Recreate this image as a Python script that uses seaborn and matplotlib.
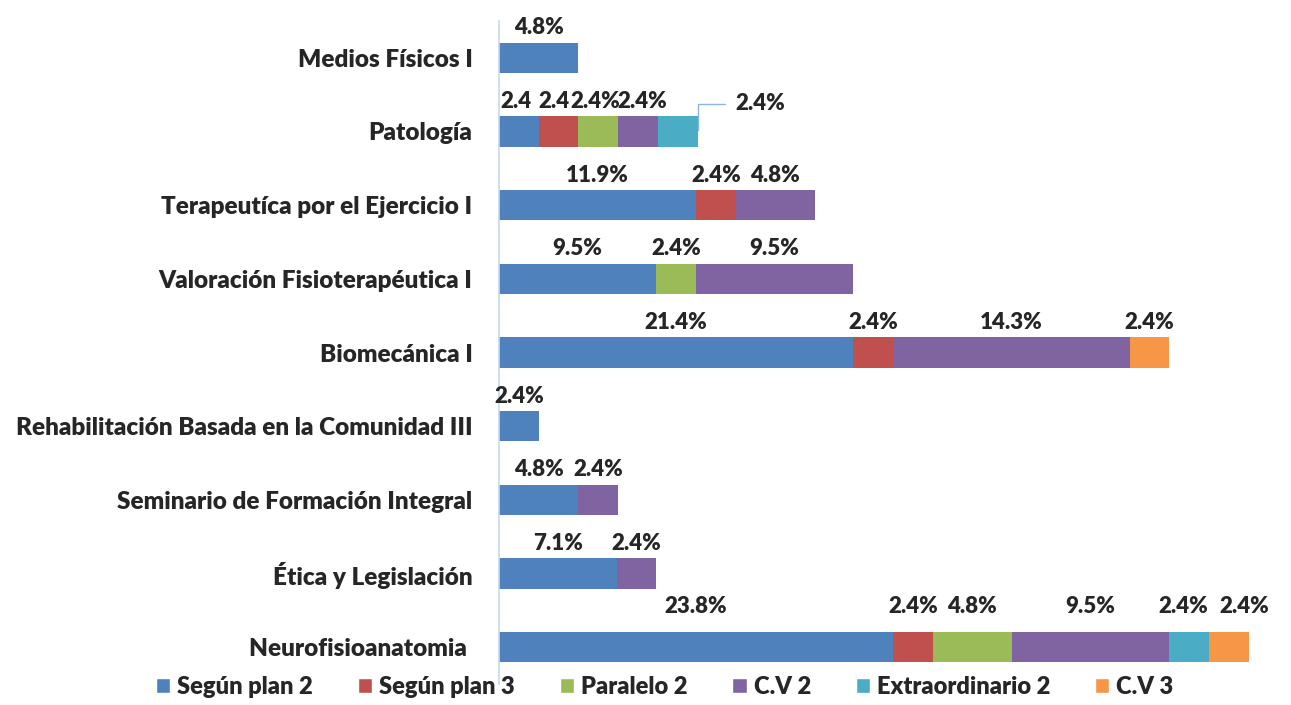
import numpy as np
import pandas as pd
import matplotlib.pyplot as plt
import seaborn as sns
from matplotlib.patches import Patch

# Data (percent of students), rows top to bottom
categories = ['Medios Físicos I', 'Patología', 'Terapeutíca por el Ejercicio I',
              'Valoración Fisioterapéutica I', 'Biomecánica I',
              'Rehabilitación Basada en la Comunidad III',
              'Seminario de Formación Integral', 'Ética y Legislación',
              'Neurofisioanatomia ']
series = ['Según plan 2', 'Según plan 3', 'Paralelo 2', 'C.V 2', 'Extraordinario 2', 'C.V 3']
segun_plan_2 = [4.8, 2.4, 11.9, 9.5, 21.4, 2.4, 4.8, 7.1, 23.8]
segun_plan_3 = [0, 2.4, 2.4, 0, 2.4, 0, 0, 0, 2.4]
paralelo_2 = [0, 2.4, 0, 2.4, 0, 0, 0, 0, 4.8]
cv_2 = [0, 2.4, 4.8, 9.5, 14.3, 0, 2.4, 2.4, 9.5]
extraordinario_2 = [0, 2.4, 0, 0, 0, 0, 0, 0, 2.4]
cv_3 = [0, 0, 0, 0, 2.4, 0, 0, 0, 2.4]
colors = ['#4F81BD', '#C0504D', '#9BBB59', '#8064A2', '#4BACC6', '#F79646']

values = np.array([segun_plan_2, segun_plan_3, paralelo_2, cv_2, extraordinario_2, cv_3])
cum = values.cumsum(axis=0)

sns.set_style('white')
plt.rcParams['font.family'] = ['Lato', 'DejaVu Sans']
W = 'heavy'
fs_tick = 17.5
fs_val = 16

# small horizontal nudges (points) for crowded labels: (row, series) -> dx
nudge = {(1, 0): -2, (1, 1): -3, (1, 2): -2, (1, 3): 3,
         (8, 4): -4, (8, 5): 11}

fig = plt.figure(figsize=(12.91, 7.05), dpi=100)
ax = fig.add_axes([499 / 1291, 1 - 684 / 705, 47 * 16.55 / 1291, 663 / 705])

# stacked bars: draw cumulative totals from the last series back to the first
for i in range(len(series) - 1, -1, -1):
    df = pd.DataFrame({'cat': categories, 'val': cum[i]})
    sns.barplot(data=df, x='val', y='cat', order=categories, orient='h',
                color=colors[i], saturation=1, width=0.41, linewidth=0, ax=ax)

# value labels above each segment
for r, cat in enumerate(categories):
    dy = 29 if r == len(categories) - 1 else 21.5
    for i in range(len(series)):
        v = values[i, r]
        if v <= 0:
            continue
        left = cum[i, r] - v
        text = f'{v}%'
        if cat == 'Patología' and i < 2:
            text = f'{v}'
        if cat == 'Patología' and i == 4:
            ax.annotate(text, xy=(cum[i, r], r - 0.02), xytext=(45, 19),
                        textcoords='offset points', ha='center', va='center',
                        fontsize=fs_val, fontweight=W,
                        arrowprops=dict(arrowstyle='-', color='#8EB4E3', lw=1,
                                        shrinkA=5, shrinkB=0,
                                        connectionstyle='angle,angleA=0,angleB=90,rad=0'))
            continue
        ax.annotate(text, xy=(left + v / 2, r), xytext=(nudge.get((r, i), 0), dy),
                    textcoords='offset points', ha='center', va='center',
                    fontsize=fs_val, fontweight=W)

ax.set_xlim(0, 47)
ax.set_ylim(len(categories) - 0.5, -0.5)
ax.set_xlabel('')
ax.set_ylabel('')
ax.set_xticks([])
ax.tick_params(axis='y', length=0, pad=19, labelsize=fs_tick)
for lab in ax.get_yticklabels():
    lab.set_fontweight(W)
for s in ['top', 'right', 'bottom']:
    ax.spines[s].set_visible(False)
ax.spines['left'].set_color('#C6D9F1')
ax.spines['left'].set_linewidth(1.2)

handles = [Patch(facecolor=c, label=s) for c, s in zip(colors, series)]
fig.legend(handles=handles, loc='lower center', bbox_to_anchor=(0.515, -0.02),
           ncol=6, frameon=False, handlelength=0.6, handleheight=0.6,
           handletextpad=0.3, columnspacing=1.9, prop={'size': 17, 'weight': W})

fig.savefig('out.png', dpi=100)
